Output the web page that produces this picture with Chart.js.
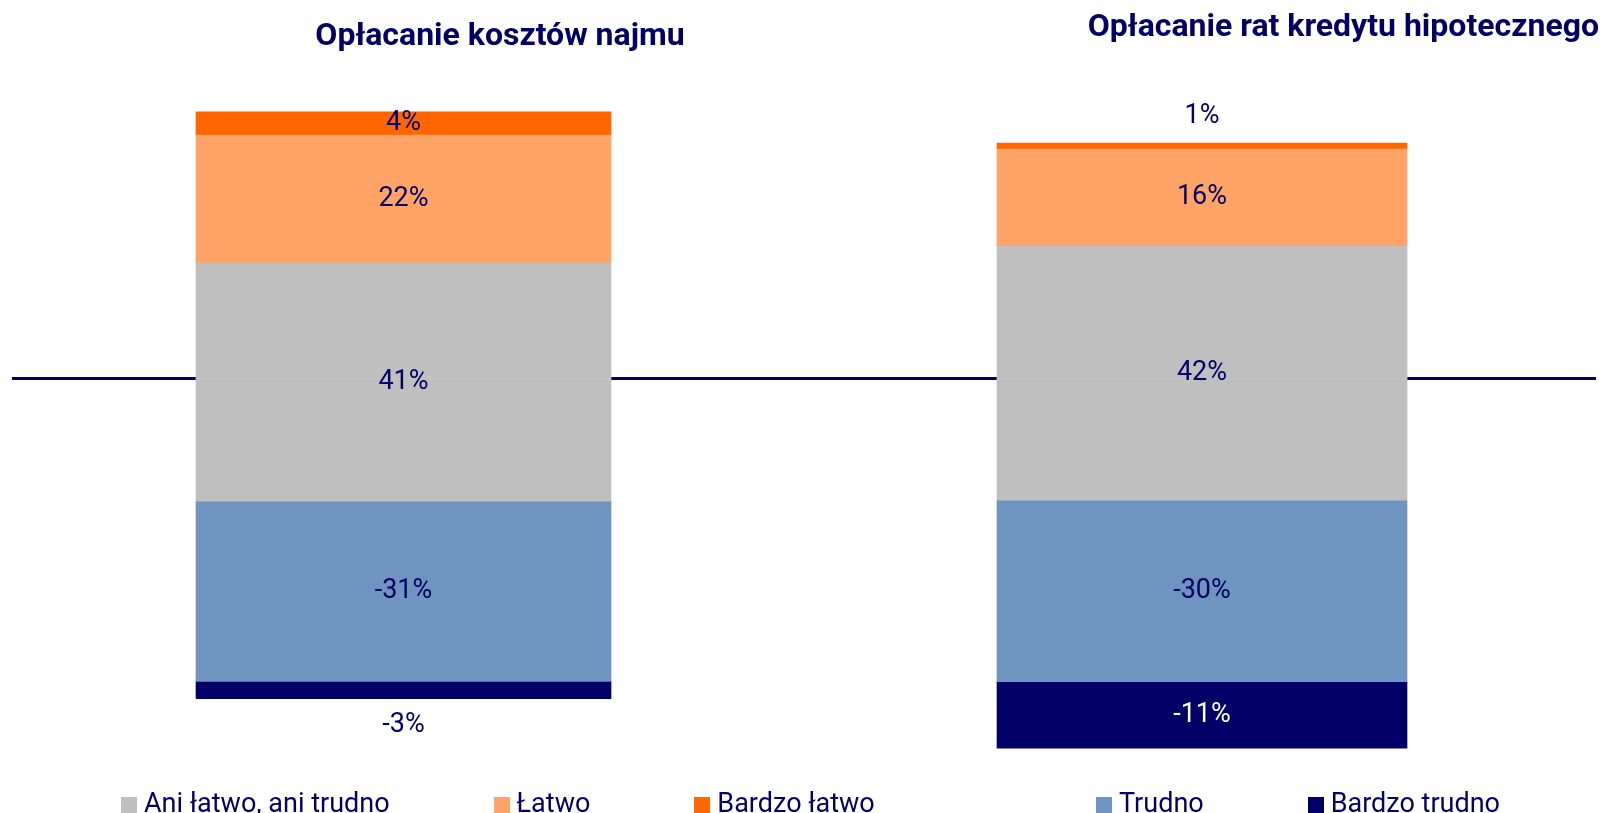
<!DOCTYPE html>
<html lang="pl">
<head>
<meta charset="utf-8">
<title>Opłacanie kosztów najmu i rat kredytu hipotecznego</title>
<script src="https://cdn.jsdelivr.net/npm/chart.js@4.4.1/dist/chart.umd.min.js"></script>
<style>
  html, body { margin: 0; padding: 0; background: #fff; overflow: hidden; }
  body { width: 1601px; height: 813px; position: relative; font-family: Roboto, sans-serif; }
  canvas { position: absolute; top: 0; }
  #chartLeft { left: 0; }
  #chartRight { left: 800px; }
  .legend { position: absolute; top: 790px; display: flex; margin: 0; padding: 0; list-style: none; }
  .legend li { display: flex; align-items: flex-start; margin-right: 104px; font-size: 27px; line-height: 27px; color: #000066; white-space: nowrap; }
  .legend .box { display: inline-block; width: 16px; height: 16px; margin-top: 7px; margin-right: 7px; }
  #legendLeft { left: 121px; }
  #legendRight { left: 1096px; }
</style>
</head>
<body>
<canvas id="chartLeft" width="988" height="813"></canvas>
<canvas id="chartRight" width="801" height="813"></canvas>
<ul class="legend" id="legendLeft"></ul>
<ul class="legend" id="legendRight"></ul>

<script>
// dane (%)
const titles = ["Opłacanie kosztów najmu", "Opłacanie rat kredytu hipotecznego"];
const seriesNames = ["Ani łatwo, ani trudno", "Łatwo", "Bardzo łatwo", "Trudno", "Bardzo trudno"];
const aniLatwoAniTrudno = [41, 42];
const neutralAboveLine = [19.9, 21.9]; // część "ani łatwo, ani trudno" nad linią
const latwo = [22, 16];
const bardzoLatwo = [4, 1];
const trudno = [-31, -30];
const bardzoTrudno = [-3, -11];

const navy = "#000066";
const colors = {
  neutral: "#bfbfbf",
  latwo: "#ffa366",
  bardzoLatwo: "#ff6600",
  trudno: "#7094c0",
  bardzoTrudno: "#000066",
};

Chart.defaults.font.family = "Roboto";
Chart.defaults.color = navy;

// linia pozioma (omija słupek)
const zeroLinePlugin = {
  id: "zeroLine",
  beforeDatasetsDraw(chart, args, opts) {
    const ctx = chart.ctx;
    const y = chart.scales.y.getPixelForValue(0);
    const from = opts.fromEdge ? 0 : chart.chartArea.left;
    const to = opts.toEdge ? chart.width : chart.chartArea.right - 3;
    const bar = chart.getDatasetMeta(0).data[0];
    const barLeft = bar.x - bar.width / 2;
    const barRight = bar.x + bar.width / 2;
    ctx.save();
    ctx.strokeStyle = navy;
    ctx.lineWidth = 3;
    ctx.beginPath();
    ctx.moveTo(from, y);
    ctx.lineTo(barLeft, y);
    ctx.moveTo(barRight, y);
    ctx.lineTo(to, y);
    ctx.stroke();
    ctx.restore();
  },
};

// etykiety wartości
const labelPlugin = {
  id: "segmentLabels",
  afterDatasetsDraw(chart) {
    const ctx = chart.ctx;
    ctx.save();
    ctx.font = "27px Roboto";
    ctx.textAlign = "center";
    ctx.textBaseline = "middle";

    const datasets = chart.data.datasets;
    let neutralTop = null;
    let neutralBottom = null;
    let neutralX = 0;
    let neutralText = "";

    datasets.forEach((ds, d) => {
      const el = chart.getDatasetMeta(d).data[0];
      if (!el) return;
      if (ds.role === "neutralUp") {
        neutralTop = el.y;
        neutralX = el.x;
        neutralText = ds.valueLabel;
        return;
      }
      if (ds.role === "neutralDown") {
        neutralBottom = el.y;
        return;
      }
      const value = ds.data[0];
      const h = Math.abs(el.base - el.y);
      let y = (el.y + el.base) / 2;
      ctx.fillStyle = ds.insideLabelColor || navy;
      if (h < 20) {
        y = value > 0 ? el.y - 27 : el.y + 27;
        ctx.fillStyle = navy;
      }
      ctx.fillText(ds.valueLabel, el.x, y);
    });

    if (neutralTop !== null && neutralBottom !== null) {
      ctx.fillStyle = navy;
      ctx.fillText(neutralText, neutralX, (neutralTop + neutralBottom) / 2);
    }
    ctx.restore();
  },
};

function makeChart(canvasId, i, cfg) {
  const datasets = [
    {
      label: seriesNames[0],
      role: "neutralUp",
      valueLabel: aniLatwoAniTrudno[i] + "%",
      data: [neutralAboveLine[i]],
      backgroundColor: colors.neutral,
    },
    {
      label: seriesNames[1],
      valueLabel: latwo[i] + "%",
      data: [latwo[i]],
      backgroundColor: colors.latwo,
    },
    {
      label: seriesNames[2],
      valueLabel: bardzoLatwo[i] + "%",
      data: [bardzoLatwo[i]],
      backgroundColor: colors.bardzoLatwo,
    },
    {
      label: seriesNames[0],
      role: "neutralDown",
      data: [neutralAboveLine[i] - aniLatwoAniTrudno[i]],
      backgroundColor: colors.neutral,
    },
    {
      label: seriesNames[3],
      valueLabel: trudno[i] + "%",
      data: [trudno[i]],
      backgroundColor: colors.trudno,
    },
    {
      label: seriesNames[4],
      valueLabel: bardzoTrudno[i] + "%",
      insideLabelColor: "#ffffff",
      data: [bardzoTrudno[i]],
      backgroundColor: colors.bardzoTrudno,
    },
  ];

  return new Chart(document.getElementById(canvasId), {
    type: "bar",
    data: {
      labels: [titles[i]],
      datasets: datasets,
    },
    options: {
      responsive: false,
      animation: false,
      layout: { padding: cfg.padding },
      datasets: {
        bar: { barThickness: cfg.barThickness, borderWidth: 0 },
      },
      scales: {
        x: { stacked: true, display: false },
        y: Object.assign(
          { stacked: true, min: cfg.min, max: cfg.max },
          cfg.yAxis
        ),
      },
      plugins: {
        legend: { display: false },
        tooltip: { enabled: false },
        title: {
          display: true,
          text: titles[i],
          color: navy,
          align: cfg.titleAlign,
          font: { size: 32, weight: "bold" },
          padding: cfg.titlePadding,
        },
        zeroLine: cfg.line,
      },
    },
    plugins: [zeroLinePlugin, labelPlugin],
  });
}

// legenda HTML
function buildLegend(chart, containerId, names) {
  const ul = document.getElementById(containerId);
  const items = chart.options.plugins.legend.labels.generateLabels(chart);
  names.forEach((name) => {
    const item = items.find((it) => it.text === name);
    if (!item) return;
    const li = document.createElement("li");
    const box = document.createElement("span");
    box.className = "box";
    box.style.background = item.fillStyle;
    const text = document.createElement("span");
    text.textContent = item.text;
    li.appendChild(box);
    li.appendChild(text);
    ul.appendChild(li);
  });
}

// lewy wykres: pusta oś po prawej przesuwa obszar wykresu, tytuł zostaje szerzej wyśrodkowany
const leftChart = makeChart("chartLeft", 0, {
  padding: { left: 12, right: 0, top: 0, bottom: 43 },
  titlePadding: { top: 18, bottom: 3.6 },
  titleAlign: "center",
  barThickness: 415,
  min: -67.36,
  max: 54.8,
  yAxis: {
    position: "right",
    display: true,
    ticks: { display: false },
    grid: { display: false },
    border: { display: false },
    afterFit(scale) {
      scale.width = 193;
    },
  },
  line: { fromEdge: false, toEdge: true },
});

const rightChart = makeChart("chartRight", 1, {
  padding: { left: 5, right: 2, top: 0, bottom: 43 },
  titlePadding: { top: 9, bottom: 12.6 },
  titleAlign: "end",
  barThickness: 410,
  min: -64.71,
  max: 52.64,
  yAxis: { display: false },
  line: { fromEdge: true, toEdge: false },
});

buildLegend(leftChart, "legendLeft", seriesNames.slice(0, 3));
buildLegend(rightChart, "legendRight", seriesNames.slice(3));
</script>
</body>
</html>
